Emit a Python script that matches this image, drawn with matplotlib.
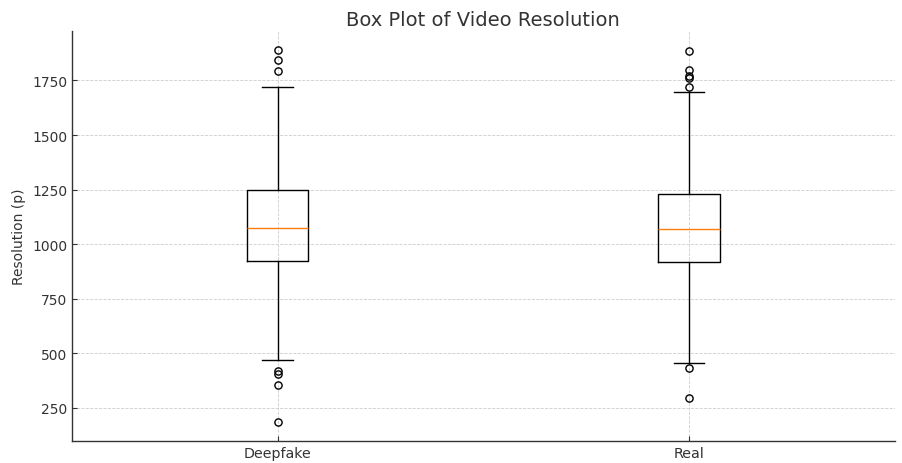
import matplotlib
matplotlib.use("Agg")
import matplotlib.pyplot as plt

# Summary statistics of video resolution per class
categories = ["Deepfake", "Real"]
q1 = [922, 919]
median = [1076, 1070]
q3 = [1247, 1232]
whisker_low = [470, 458]
whisker_high = [1719, 1699]
fliers_deepfake = [1891, 1845, 1795, 421, 406, 356, 185]
fliers_real = [1885, 1797, 1772, 1762, 1720, 435, 295]
fliers = [fliers_deepfake, fliers_real]

plt.rcParams["font.family"] = ["DejaVu Sans"]
text_color = "#333333"

fig = plt.figure(figsize=(9.02, 4.64), dpi=100)
ax = fig.add_axes([0.0798, 0.048, 0.912, 0.883])

stats = []
for i, name in enumerate(categories):
    stats.append({
        "label": name,
        "q1": q1[i],
        "med": median[i],
        "q3": q3[i],
        "whislo": whisker_low[i],
        "whishi": whisker_high[i],
        "fliers": fliers[i],
    })

ax.bxp(stats, positions=[1, 2], widths=0.15,
       boxprops=dict(color="black", linewidth=1.0),
       whiskerprops=dict(color="black", linewidth=1.0),
       capprops=dict(color="black", linewidth=1.0),
       medianprops=dict(color="#ff7f0e", linewidth=1.0),
       flierprops=dict(marker="o", markerfacecolor="none",
                       markeredgecolor="black", markersize=5.2))

ax.set_xlim(0.5, 2.5)
ax.grid(True, linestyle="--", linewidth=0.6, color="#cccccc")
ax.set_axisbelow(True)
for side in ("top", "right"):
    ax.spines[side].set_visible(False)
for side in ("left", "bottom"):
    ax.spines[side].set_color(text_color)
    ax.spines[side].set_linewidth(1.0)
ax.tick_params(direction="in", length=3.5, colors=text_color,
               labelsize=10, labelcolor=text_color)
ax.tick_params(axis="x", labelsize=10.3)
ax.set_ylabel("Resolution (p)", fontsize=10, color=text_color)
ax.set_title("Box Plot of Video Resolution", fontsize=14, color=text_color, pad=4)

fig.savefig("out.png", dpi=100)
